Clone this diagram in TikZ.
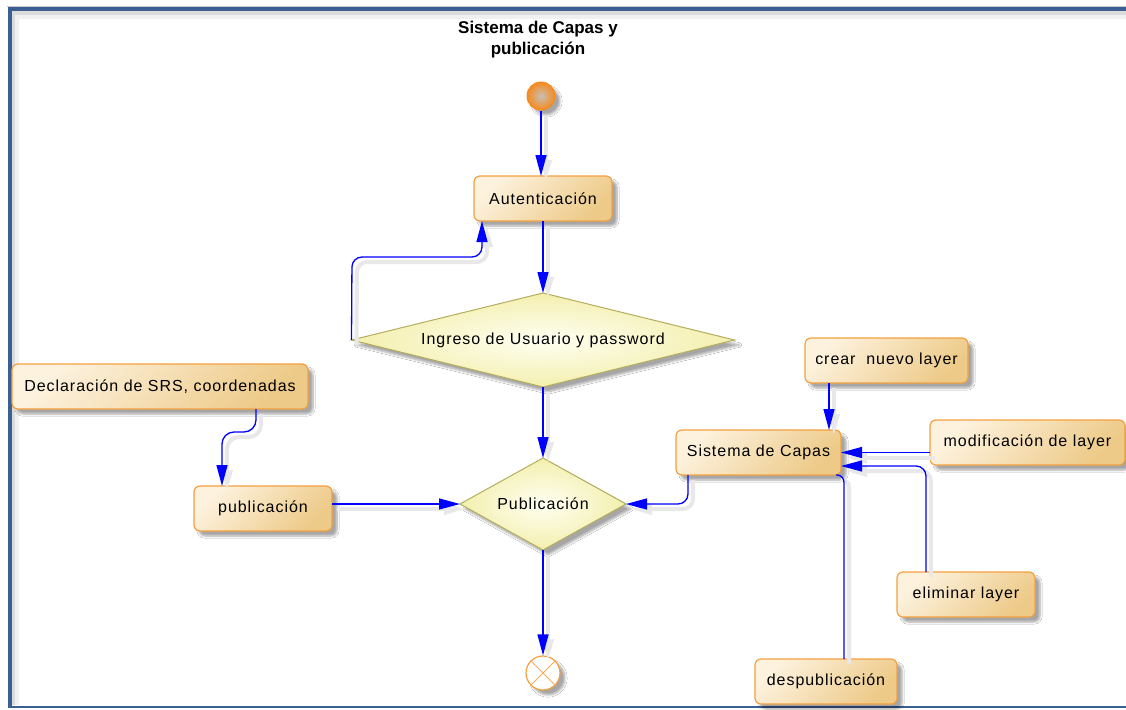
\documentclass[tikz,border=0pt]{standalone}
\usepackage{fontspec}
\setmainfont{Liberation Sans}
\newfontfamily\lblfamily[LetterSpace=6]{Liberation Sans}
\usetikzlibrary{arrows.meta,shapes.geometric,shadows.blur}

\definecolor{frameblue}{HTML}{3B5E93}
\definecolor{boxline}{HTML}{F4A040}
\definecolor{boxlight}{HTML}{FDF2DE}
\definecolor{boxdark}{HTML}{EDCA88}
\definecolor{dialine}{HTML}{B4AE5C}
\definecolor{diain}{HTML}{FFFFF2}
\definecolor{diaout}{HTML}{F3EFAE}
\definecolor{flowblue}{HTML}{0000FF}
\definecolor{startorange}{HTML}{F58A1F}
\definecolor{startcore}{HTML}{C8BFB5}

\tikzset{
  lbl/.style={font={\lblfamily\fontsize{16}{19}\selectfont}},
  softshadow/.style={blur shadow={shadow xshift=5pt, shadow yshift=-5pt,
      shadow blur steps=6, shadow opacity=35}},
  act/.style={rectangle, rounded corners=6pt, draw=boxline, line width=1.2pt,
      top color=boxlight, bottom color=boxdark, shading angle=45,
      minimum height=45pt, inner sep=0pt, outer sep=0pt, lbl, softshadow},
  dec/.style={diamond, draw=dialine, line width=1pt, inner color=diain,
      outer color=diaout, inner sep=0pt, outer sep=0pt, lbl, softshadow},
  linkshadow/.style={preaction={draw=black!9, line width=4pt,
      transform canvas={shift={(5pt,-5pt)}}}},
  conn/.style={draw=flowblue, line width=1.3pt,
      -{Triangle[length=21pt,width=11pt]}, linkshadow},
  plainconn/.style={draw=flowblue, line width=1.3pt, linkshadow},
}

\begin{document}
\begin{tikzpicture}[x=1pt, y=-1pt]
\useasboundingbox (0,0) rectangle (1126,709);

% window frame
\fill[white] (0,0) rectangle (1126,709);
\fill[black!14] (11.5,11.5) rectangle (1126,15);
\fill[black!6] (15,15) rectangle (1126,19);
\fill[black!14] (11.5,11.5) rectangle (15,705);
\fill[black!6] (15,15) rectangle (19,705);
\draw[black!22, line width=1pt] (7,6.5) -- (1126,6.5);
\draw[frameblue, line width=4pt] (9.5,708) -- (9.5,9.5) -- (1126,9.5);
\draw[frameblue, line width=2.5pt] (8,707) -- (1126,707);

% title
\node[font={\bfseries\fontsize{17}{21}\selectfont}, align=center]
      (title) at (538,40) {Sistema de Capas y\\publicación};

% nodes
\node[circle, minimum size=28pt, inner sep=0pt, draw=startorange, line width=1pt,
      inner color=startcore, outer color=startorange, softshadow] (start) at (541,96) {};
\node[act, minimum width=138pt] (auth) at (543,198.5) {Autenticación};
\node[dec, shape aspect=4.07, minimum width=383pt, minimum height=94pt]
      (login) at (543,340) {Ingreso de Usuario y password};
\node[dec, shape aspect=1.8, minimum width=166pt, minimum height=92pt]
      (pubdec) at (543,504) {Publicación};
\node[circle, minimum size=34pt, inner sep=0pt, draw=boxline, line width=1.2pt,
      fill=white, softshadow] (finish) at (543,673) {};
\draw[boxline!85, line width=1pt] (finish.45) -- (finish.225)
      (finish.135) -- (finish.315);

\node[act, minimum width=296pt] (srs) at (160,386.5) {Declaración de SRS, coordenadas};
\node[act, minimum width=138pt] (pub) at (263,508.5) {publicación};
\node[act, minimum width=165pt] (capas) at (758.5,452.5) {Sistema de Capas};
\node[act, minimum width=163pt] (crear) at (886.5,360.5) {crear\ \ nuevo layer};
\node[act, minimum width=195pt] (modif) at (1027.5,442.5) {modificación de layer};
\node[act, minimum width=138pt] (elim) at (966,594.5) {eliminar layer};
\node[act, minimum width=142pt] (desp) at (826,681.5) {despublicación};

% connectors
\draw[conn] (start.south) -- (start.south |- auth.north);
\draw[conn] (auth.south) -- (login.north);
\draw[conn, rounded corners=10pt] (login.west) -- (352,257) -- (482,257)
      -- ([xshift=-61pt]auth.south);
\draw[conn] (login.south) -- (pubdec.north);
\draw[conn] (pubdec.south) -- (finish.north);
\draw[conn, rounded corners=12pt] ([xshift=96pt]srs.south) |- (222,432)
      -- ([xshift=-41pt]pub.north);
\draw[conn] (pub.east |- pubdec.west) -- (pubdec.west);
\draw[conn, rounded corners=10pt] ([xshift=-70.5pt]capas.south) |- (pubdec.east);
\draw[conn] ([xshift=-57.5pt]crear.south) -- ([xshift=-57.5pt]crear.south |- capas.north);
\draw[conn] (modif.west |- capas.east) -- (capas.east);
\draw[conn, rounded corners=10pt] ([xshift=-40pt]elim.north) |- ([yshift=-13.5pt]capas.east);
\draw[plainconn, rounded corners=7pt] ([xshift=18pt]desp.north) |- ([xshift=-5pt]capas.south east);
\end{tikzpicture}
\end{document}
